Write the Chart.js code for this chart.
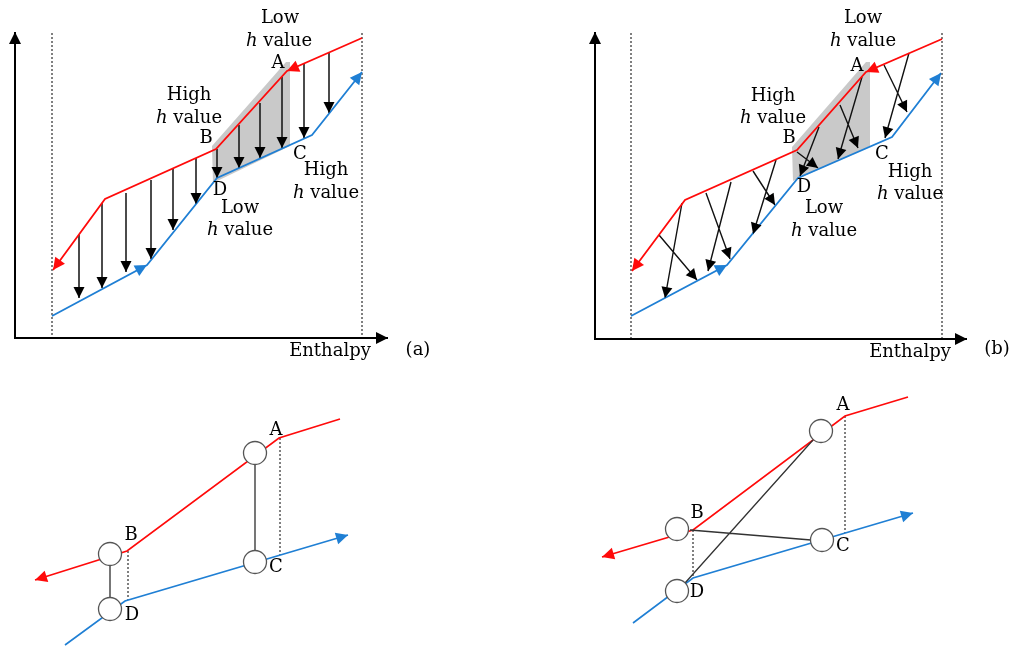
<!DOCTYPE html>
<html>
<head>
<meta charset="utf-8">
<script src="https://cdn.jsdelivr.net/npm/chart.js@4/dist/chart.umd.min.js"></script>
<style>
  body { margin: 0; background: #fff; }
  canvas { display: block; }
</style>
</head>
<body>
<canvas id="c" width="1013" height="646"></canvas>
<script>
// diagram values (x right, y down)
const redA = [[362, 38], [287, 71], [216, 149], [105, 199], [53, 270]];
const blueA = [[52, 316], [147, 265], [217, 178], [312, 135], [362, 72]];
const redB = [[942, 39], [866, 72], [797, 150], [685, 200], [632, 271]];
const blueB = [[631, 316], [727, 265], [798, 178], [892, 137], [941, 73]];

// heat transfer arrows [x1, y1, x2, y2]
const arrowsA = [
  [79, 235, 79, 298], [102, 203, 102, 288], [126, 193, 126, 272], [151, 180, 151, 259],
  [173, 169, 173, 230], [196, 158, 196, 204], [217, 149, 217, 178], [239, 125, 239, 168],
  [260, 103, 260, 158], [282, 77, 282, 148], [304, 64, 304, 138], [329, 52, 329, 113]
];
const arrowsB = [
  [659, 235, 697, 280], [682, 203, 665, 298], [706, 193, 730, 259], [731, 182, 708, 271],
  [753, 171, 775, 205], [776, 160, 753, 234], [797, 152, 818, 168], [819, 127, 800, 176],
  [840, 105, 858, 148], [862, 77, 838, 159], [884, 65, 907, 112], [909, 53, 885, 138]
];

const shadeA = [[212, 146], [286, 62], [290, 62], [290, 146], [213, 183]];
const shadeB = [[792, 147], [866, 62], [870, 62], [870, 146], [793, 181]];

const axesA = { origin: [15, 338], top: [15, 32], right: [388, 338] };
const axesB = { origin: [595, 339], top: [595, 32], right: [967, 339] };
const dottedA = [[52, 33, 52, 338], [362, 33, 362, 338]];
const dottedB = [[631, 33, 631, 339], [942, 33, 942, 339]];

// lower sketches
const redC = [[340, 419], [279, 438], [127, 551], [35, 580]];
const blueC = [[65, 645], [125, 601], [348, 535]];
const redD = [[908, 397], [845, 416], [693, 530], [602, 557]];
const blueD = [[633, 623], [693, 578], [913, 513]];
const nodesC = [[255, 453], [110, 554], [255, 562], [110, 609]];
const nodesD = [[821, 431], [677, 529], [822, 540], [677, 591]];
const linksC = [[110, 565, 110, 598], [255, 464, 255, 551]];
const linksD = [[813, 440, 685, 583], [690, 530, 811, 540]];
const dottedC = [[128, 551, 128, 600], [280, 438, 280, 555]];
const dottedD = [[693, 530, 693, 578], [845, 416, 845, 533]];

const labels = [
  ['Low', 280, 18], ['*h value', 279, 41], ['A', 278, 63],
  ['High', 189, 95], ['*h value', 189, 118], ['B', 206, 138],
  ['C', 300, 154], ['High', 326, 170], ['*h value', 326, 193],
  ['D', 220, 190], ['Low', 240, 208], ['*h value', 240, 230],
  ['Enthalpy', 330, 351], ['(a)', 418, 350],
  ['Low', 863, 18], ['*h value', 863, 41], ['A', 857, 66],
  ['High', 773, 96], ['*h value', 773, 118], ['B', 789, 138],
  ['C', 882, 154], ['High', 910, 172], ['*h value', 910, 194],
  ['D', 804, 187], ['Low', 824, 208], ['*h value', 824, 231],
  ['Enthalpy', 910, 352], ['(b)', 997, 349],
  ['A', 276, 430], ['B', 131, 535], ['C', 276, 567], ['D', 132, 615],
  ['A', 843, 405], ['B', 697, 513], ['C', 843, 546], ['D', 697, 592]
];

const RED = '#ff0a0a';
const BLUE = '#1f7fd4';

const pts = arr => arr.map(p => ({ x: p[0], y: p[1] }));
const segs = arr => {
  const out = [];
  arr.forEach(s => { out.push({ x: s[0], y: s[1] }, { x: s[2], y: s[3] }, { x: s[2], y: null }); });
  return out;
};
const line = (data, color, width, dash, order) => ({
  data: data, showLine: true, borderColor: color, borderWidth: width, borderDash: dash || [],
  pointRadius: 0, fill: false, spanGaps: false, tension: 0, order: order
});

// arrowheads: [fromPoint, tipPoint, colour, length, halfWidth]
const heads = [];
heads.push([redA[0], redA[1], RED, 12, 6], [redA[3], redA[4], RED, 12, 6]);
heads.push([blueA[0], blueA[1], BLUE, 12, 6], [blueA[3], blueA[4], BLUE, 12, 6]);
heads.push([redB[0], redB[1], RED, 12, 6], [redB[3], redB[4], RED, 12, 6]);
heads.push([blueB[0], blueB[1], BLUE, 12, 6], [blueB[3], blueB[4], BLUE, 12, 6]);
heads.push([redC[2], redC[3], RED, 12, 6], [blueC[1], blueC[2], BLUE, 12, 6]);
heads.push([redD[2], redD[3], RED, 12, 6], [blueD[1], blueD[2], BLUE, 12, 6]);
[axesA, axesB].forEach(a => {
  heads.push([a.origin, a.top, '#000', 12, 6], [a.origin, a.right, '#000', 12, 6]);
});
arrowsA.concat(arrowsB).forEach(s => {
  heads.push([[s[0], s[1]], [s[2], s[3]], '#000', 11, 5.5]);
});

const decor = {
  id: 'decor',
  beforeDatasetsDraw(chart) {
    const ctx = chart.ctx, sx = chart.scales.x, sy = chart.scales.y;
    ctx.save();
    ctx.fillStyle = '#c9c9c9';
    [shadeA, shadeB].forEach(poly => {
      ctx.beginPath();
      poly.forEach((p, i) => {
        const x = sx.getPixelForValue(p[0]), y = sy.getPixelForValue(p[1]);
        if (i === 0) ctx.moveTo(x, y); else ctx.lineTo(x, y);
      });
      ctx.closePath();
      ctx.fill();
    });
    ctx.restore();
  },
  afterDatasetsDraw(chart) {
    const ctx = chart.ctx, sx = chart.scales.x, sy = chart.scales.y;
    ctx.save();
    heads.forEach(h => {
      const fx = sx.getPixelForValue(h[0][0]), fy = sy.getPixelForValue(h[0][1]);
      const tx = sx.getPixelForValue(h[1][0]), ty = sy.getPixelForValue(h[1][1]);
      const a = Math.atan2(ty - fy, tx - fx);
      const len = h[3], w = h[4];
      const bx = tx - len * Math.cos(a), by = ty - len * Math.sin(a);
      ctx.fillStyle = h[2];
      ctx.beginPath();
      ctx.moveTo(tx, ty);
      ctx.lineTo(bx + w * Math.sin(a), by - w * Math.cos(a));
      ctx.lineTo(bx - w * Math.sin(a), by + w * Math.cos(a));
      ctx.closePath();
      ctx.fill();
    });
    ctx.fillStyle = '#000';
    ctx.textBaseline = 'middle';
    labels.forEach(l => {
      let txt = l[0];
      const x = sx.getPixelForValue(l[1]), y = sy.getPixelForValue(l[2]);
      const size = 18;
      const normal = size + 'px "DejaVu Serif"';
      const italic = 'italic ' + size + 'px "DejaVu Serif"';
      if (txt[0] === '*') {
        txt = txt.slice(1);
        const first = txt[0], rest = txt.slice(1);
        ctx.font = italic;
        const w1 = ctx.measureText(first).width;
        ctx.font = normal;
        const w2 = ctx.measureText(rest).width;
        let x0 = x - (w1 + w2) / 2;
        ctx.textAlign = 'left';
        ctx.font = italic;
        ctx.fillText(first, x0, y);
        ctx.font = normal;
        ctx.fillText(rest, x0 + w1, y);
      } else {
        ctx.font = normal;
        ctx.textAlign = 'center';
        ctx.fillText(txt, x, y);
      }
    });
    ctx.restore();
  }
};

const datasets = [
  {
    data: pts(nodesC.concat(nodesD)), showLine: false, pointRadius: 11.5, pointHoverRadius: 11.5,
    pointBackgroundColor: '#fff', pointBorderColor: '#555', pointBorderWidth: 1.3, order: 0
  },
  line(segs(linksC), '#555', 1.6, [], 1),
  line(segs(linksD), '#333', 1.3, [], 1),
  line(pts(redA), RED, 1.8, [], 2),
  line(pts(blueA), BLUE, 1.8, [], 2),
  line(pts(redB), RED, 1.8, [], 2),
  line(pts(blueB), BLUE, 1.8, [], 2),
  line(pts(redC), RED, 1.6, [], 2),
  line(pts(blueC), BLUE, 1.6, [], 2),
  line(pts(redD), RED, 1.6, [], 2),
  line(pts(blueD), BLUE, 1.6, [], 2),
  line(segs(arrowsA), '#111', 1.5, [], 3),
  line(segs(arrowsB), '#111', 1.4, [], 3),
  line(pts([axesA.top, axesA.origin, axesA.right]), '#000', 2, [], 3),
  line(pts([axesB.top, axesB.origin, axesB.right]), '#000', 2, [], 3),
  line(segs(dottedA.concat(dottedB, dottedC, dottedD)), '#000', 1, [2, 2], 4)
];

new Chart(document.getElementById('c'), {
  type: 'scatter',
  data: { datasets: datasets },
  options: {
    responsive: false,
    animation: false,
    events: [],
    layout: { padding: 0, autoPadding: false },
    plugins: { legend: { display: false }, tooltip: { enabled: false } },
    elements: { line: { borderCapStyle: 'butt', borderJoinStyle: 'miter' } },
    scales: {
      x: { type: 'linear', min: 0, max: 1013, display: false },
      y: { type: 'linear', min: 0, max: 646, reverse: true, display: false }
    }
  },
  plugins: [decor]
});
</script>
</body>
</html>
